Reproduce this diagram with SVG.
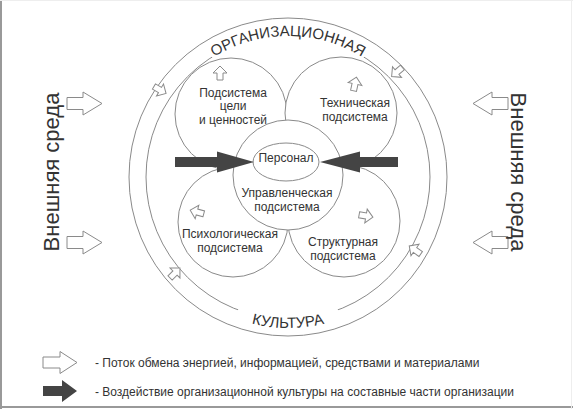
<svg xmlns="http://www.w3.org/2000/svg" width="573" height="409" viewBox="0 0 573 409">
<defs>
<style>
.ln{fill:#fff;stroke:#8a8a8a;stroke-width:1}
.t{font-family:"Liberation Sans",Arial,sans-serif;font-size:12px;fill:#333;text-anchor:middle}
.big{font-family:"Liberation Sans",Arial,sans-serif;font-size:22px;fill:#333;text-anchor:middle}
.ring{font-family:"Liberation Sans",Arial,sans-serif;font-size:15px;fill:#333;text-anchor:middle}
.leg{font-family:"Liberation Sans",Arial,sans-serif;font-size:12px;fill:#333}
.ha{fill:#fff;stroke:#8a8a8a;stroke-width:1}
.ba{fill:#444;stroke:none}
</style>
<path id="sa" d="M-7,-3 H0 V-7 L7,0 L0,7 V3 H-7 Z"/>
<path id="ea" d="M0,-6 H16 V-11.5 L35,0 L16,11.5 V6 H0 Z"/>
<path id="topArc" d="M147,177 A141,141 0 0 1 429,177"/>
<path id="botArc" d="M137,177 A151,151 0 0 0 439,177"/>
</defs>
<rect width="573" height="409" fill="#fff"/>
<line x1="1" y1="0" x2="1" y2="409" stroke="#999" stroke-width="2"/>
<line x1="0" y1="407" x2="573" y2="407" stroke="#999" stroke-width="2"/>
<line x1="0" y1="0.5" x2="573" y2="0.5" stroke="#eee" stroke-width="1"/>
<line x1="571.5" y1="0" x2="571.5" y2="409" stroke="#eee" stroke-width="1"/>

<g id="culture">
<circle class="ln" cx="288" cy="177" r="159"/>
<circle class="ln" cx="288" cy="177" r="142"/>
<path d="M212,57 A142,142 0 0 1 364,57" fill="none" stroke="#fff" stroke-width="6"/>
<path d="M238,310 A142,142 0 0 0 338,310" fill="none" stroke="#fff" stroke-width="6"/>
<text class="ring"><textPath href="#topArc" startOffset="50%">ОРГАНИЗАЦИОННАЯ</textPath></text>
<text class="ring"><textPath href="#botArc" startOffset="50%">КУЛЬТУРА</textPath></text>
</g>

<g id="goals">
<circle class="ln" cx="231" cy="114" r="56"/>
<text class="t" x="233" y="97">Подсистема</text>
<text class="t" x="233" y="110">цели</text>
<text class="t" x="233" y="124">и ценностей</text>
</g>
<g id="technical">
<circle class="ln" cx="341" cy="113" r="56"/>
<text class="t" x="355" y="107">Техническая</text>
<text class="t" x="355" y="121">подсистема</text>
</g>
<g id="psych">
<circle class="ln" cx="233" cy="222" r="55"/>
<text class="t" x="230" y="238">Психологическая</text>
<text class="t" x="230" y="252">подсистема</text>
</g>
<g id="structural">
<circle class="ln" cx="344" cy="221" r="56"/>
<text class="t" x="343" y="246">Структурная</text>
<text class="t" x="343" y="260">подсистема</text>
</g>
<g id="management">
<circle class="ln" cx="288" cy="175" r="55"/>
<text class="t" x="287" y="197">Управленческая</text>
<text class="t" x="287" y="211">подсистема</text>
</g>
<g id="personnel">
<ellipse class="ln" cx="286" cy="162" rx="33" ry="19"/>
<text class="t" x="286" y="162">Персонал</text>
</g>

<g id="connectors">
<path class="ba" d="M175,157 H217 V151.5 L254,162 L217,172.5 V167 H175 Z"/>
<path class="ba" d="M398,157 H360 V151.5 L320,162 L360,172.5 V167 H398 Z"/>
<use href="#sa" class="ha" transform="translate(220,73) rotate(-90)"/>
<use href="#sa" class="ha" transform="translate(355,84) rotate(-78)"/>
<use href="#sa" class="ha" transform="translate(197,212) rotate(195)"/>
<use href="#sa" class="ha" transform="translate(366,216) rotate(10)"/>
<use href="#sa" class="ha" transform="translate(160,90) rotate(30)"/>
<use href="#sa" class="ha" transform="translate(397,72) rotate(140)"/>
<use href="#sa" class="ha" transform="translate(175,273) rotate(-45)"/>
<use href="#sa" class="ha" transform="translate(415,250) rotate(-145)"/>
<use href="#ea" class="ha" transform="translate(67,103.5)"/>
<use href="#ea" class="ha" transform="translate(67,242.5)"/>
<use href="#ea" class="ha" transform="translate(508,103.5) scale(-1,1)"/>
<use href="#ea" class="ha" transform="translate(508,242.5) scale(-1,1)"/>
</g>

<g id="env-left"><text class="big" transform="translate(59,172) rotate(-90)">Внешняя среда</text></g>
<g id="env-right"><text class="big" transform="translate(511,172) rotate(90)">Внешняя среда</text></g>

<g id="legend">
<path class="ha" d="M43,357 H60 V351.5 L77,362.5 L60,373.5 V368 H43 Z"/>
<text class="leg" x="95" y="367">- Поток обмена энергией, информацией, средствами и материалами</text>
<path class="ba" d="M43,386 H62 V380 L77,391 L62,402 V396 H43 Z"/>
<text class="leg" x="95" y="396">- Воздействие организационной культуры на составные части организации</text>
</g>
</svg>
